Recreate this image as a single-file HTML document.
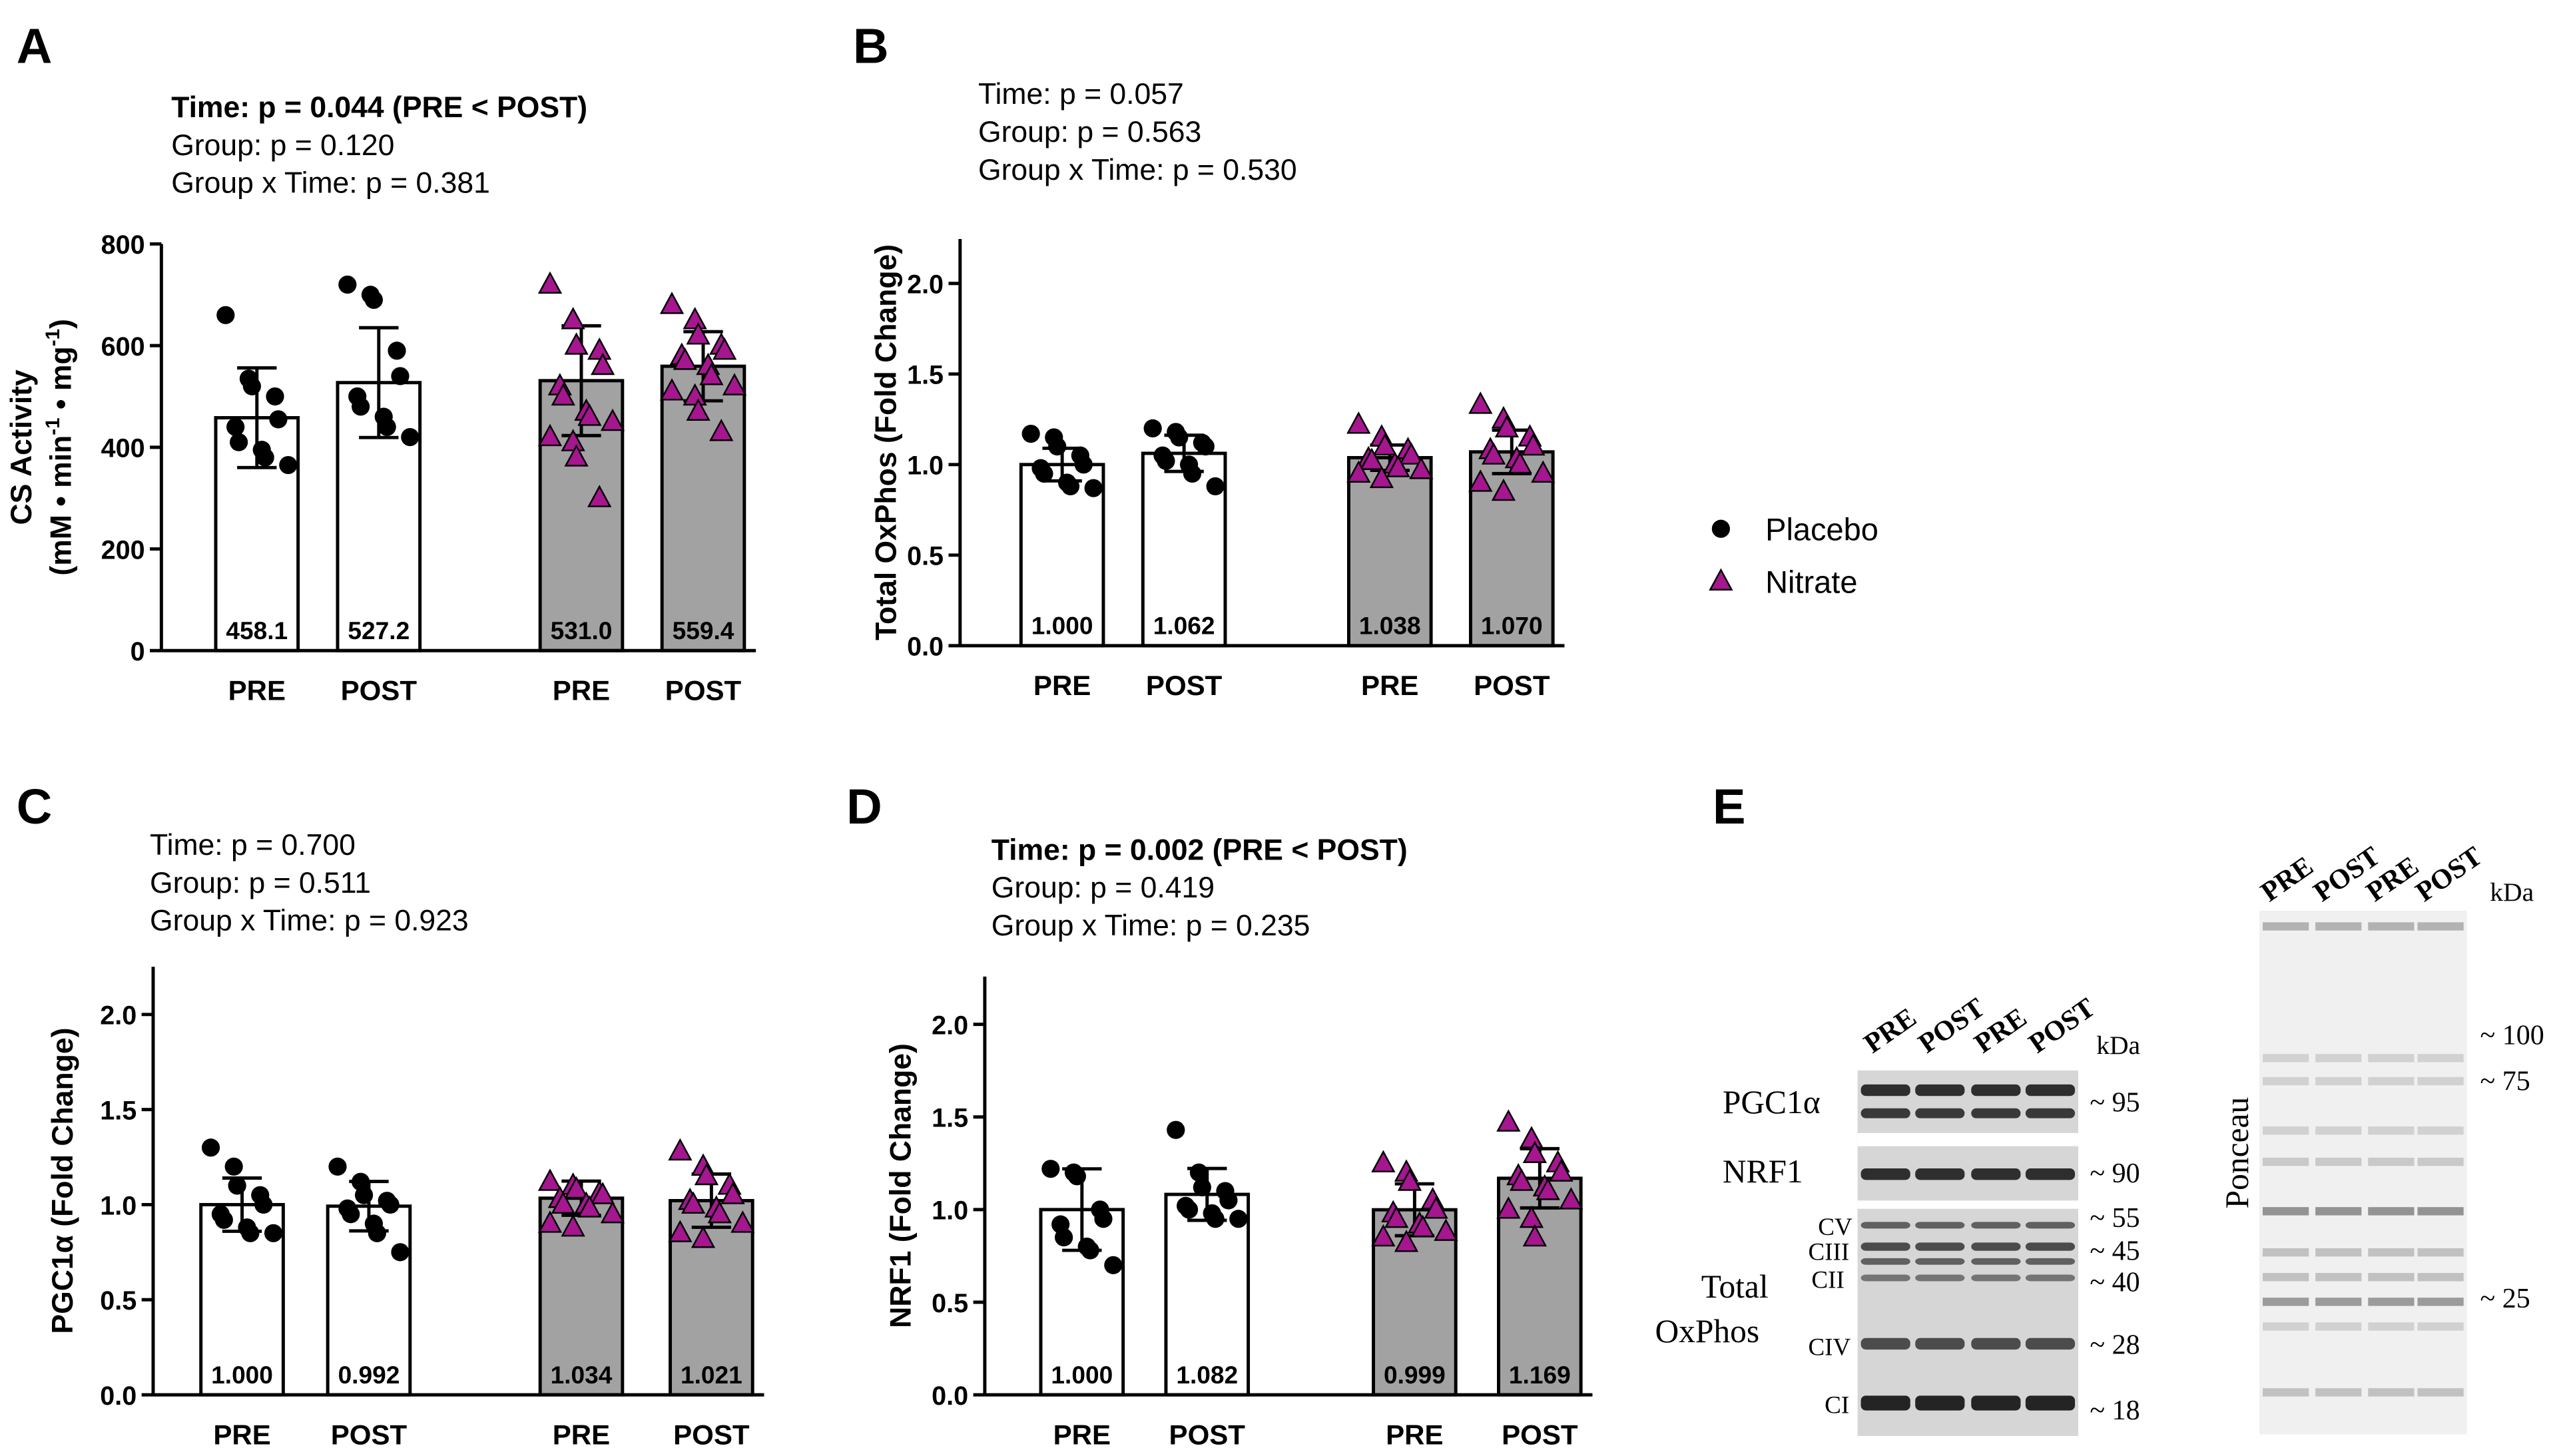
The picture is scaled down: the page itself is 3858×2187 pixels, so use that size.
<!DOCTYPE html>
<html><head><meta charset="utf-8">
<style>
html,body{margin:0;padding:0;background:#fff;}
svg{display:block;font-family:"Liberation Sans",Arial,sans-serif;}
</style></head>
<body>
<svg id="fig" width="3858" height="2187" viewBox="0 0 1560 884" xmlns="http://www.w3.org/2000/svg">
</svg>
<script>
// ---- data ----
const groups = ["Placebo PRE","Placebo POST","Nitrate PRE","Nitrate POST"];
const xLabels = ["PRE","POST","PRE","POST"];
const meansA = [458.1,527.2,531.0,559.4];
const sdA = [98,108,108,68];
const ptsA = [[660,535,520,500,455,440,410,395,380,365],[720,700,690,590,540,500,480,460,440,420],[720,650,600,590,560,520,500,470,460,450,420,410,380,300],[680,650,620,600,590,580,570,560,540,520,510,500,470,430]];
const meansB = [1.000,1.062,1.038,1.070];
const sdB = [0.09,0.10,0.07,0.12];
const ptsB = [[1.17,1.15,1.1,1.05,1.0,0.98,0.95,0.9,0.88,0.87],[1.2,1.18,1.15,1.12,1.1,1.05,1.02,1.0,0.95,0.88],[1.22,1.15,1.1,1.08,1.05,1.03,1.02,1.0,0.98,0.97,0.95,0.92],[1.33,1.25,1.2,1.15,1.1,1.08,1.05,1.03,1.0,0.95,0.9,0.85]];
const meansC = [1.000,0.992,1.034,1.021];
const sdC = [0.14,0.13,0.09,0.14];
const ptsC = [[1.3,1.2,1.1,1.05,1.0,0.95,0.92,0.88,0.85,0.85],[1.2,1.12,1.05,1.02,1.0,0.98,0.95,0.9,0.85,0.75],[1.12,1.1,1.08,1.06,1.05,1.03,1.0,1.0,0.98,0.95,0.9,0.88],[1.28,1.2,1.15,1.1,1.05,1.02,1.0,0.98,0.95,0.9,0.85,0.82]];
const meansD = [1.000,1.082,0.999,1.169];
const sdD = [0.22,0.14,0.14,0.16];
const ptsD = [[1.22,1.2,1.18,1.0,0.95,0.92,0.85,0.8,0.78,0.7],[1.43,1.2,1.12,1.1,1.05,1.02,1.0,0.98,0.95,0.95],[1.25,1.2,1.15,1.05,1.0,0.98,0.95,0.92,0.9,0.88,0.85,0.82],[1.47,1.38,1.3,1.25,1.2,1.18,1.15,1.12,1.1,1.05,1.0,0.95,0.85]];
const ticksA = [0,200,400,600,800];
const ticksFold = [0.0,0.5,1.0,1.5,2.0];

const NS="http://www.w3.org/2000/svg";
const svg=document.getElementById('fig');
function el(tag,attrs,parent){const e=document.createElementNS(NS,tag);for(const k in attrs)e.setAttribute(k,attrs[k]);(parent||svg).appendChild(e);return e;}
function txt(s,x,y,attrs,parent){const t=el('text',Object.assign({x:x,y:y,fill:'#000'},attrs),parent);t.textContent=s;return t;}

function panel(cfg){
  const g=el('g',{});
  
  
  const y=v=>cfg.y0-(v-cfg.vmin)/(cfg.vmax-cfg.vmin)*(cfg.y0-cfg.yTop);
  const L=txt(cfg.letter,cfg.letterX,cfg.letterY,{'font-size':30,'font-weight':'bold'},g);
  
  cfg.stats.forEach((s,i)=>{const t=txt(s,cfg.statX,cfg.statY+i*23,{'font-size':18,'font-weight':(i==0&&cfg.boldFirst)?'bold':'normal'},g);
    });
  const bw=50;
  cfg.means.forEach((m,i)=>{
    const cx=cfg.xs[i];
    const b=el('rect',{x:cx-bw/2,y:y(m),width:bw,height:cfg.y0-y(m),fill:i<2?'#fff':'#a2a2a2',stroke:'#000','stroke-width':2},g);
    
    const sd=cfg.sds[i];
    el('line',{x1:cx,x2:cx,y1:y(m-sd),y2:y(m+sd),stroke:'#000','stroke-width':2},g);
    el('line',{x1:cx-12,x2:cx+12,y1:y(m+sd),y2:y(m+sd),stroke:'#000','stroke-width':2},g);
    el('line',{x1:cx-12,x2:cx+12,y1:y(m-sd),y2:y(m-sd),stroke:'#000','stroke-width':2},g);
    cfg.pts[i].forEach((v,j)=>{
      const off=((j%5)-2)*8+((j%2)?3:-3);
      const px=cx+off, py=y(v);
      let p;
      if(i<2){p=el('circle',{cx:px,cy:py,r:5.5,fill:'#000'},g);}
      else{p=el('polygon',{points:`${px},${py-7} ${px-6.5},${py+5} ${px+6.5},${py+5}`,fill:'#a5168f',stroke:'#000','stroke-width':1},g);}
      
    });
    const vt=txt(m.toFixed(cfg.dec),cx,cfg.y0-7,{'font-size':15,'font-weight':'bold','text-anchor':'middle'},g);
    
    const xl=txt(xLabels[i],cx,cfg.y0+30,{'font-size':17,'font-weight':'bold','text-anchor':'middle'},g);
    
  });
  const ax=el('line',{x1:cfg.ax,x2:cfg.ax,y1:cfg.axTop,y2:cfg.y0,stroke:'#000','stroke-width':2},g);
  
  const xa=el('line',{x1:cfg.ax,x2:cfg.xs[3]+32,y1:cfg.y0,y2:cfg.y0,stroke:'#000','stroke-width':2},g);
  
  cfg.ticks.forEach(t=>{
    el('line',{x1:cfg.ax-7,x2:cfg.ax,y1:y(t),y2:y(t),stroke:'#000','stroke-width':2},g);
    const tl=txt(t.toFixed(cfg.tdec),cfg.ax-10,y(t)+6,{'font-size':16,'font-weight':'bold','text-anchor':'end'},g);
    
  });
  const yt=el('text',{transform:`translate(${cfg.titleX},${(cfg.y0+cfg.axTop)/2}) rotate(-90)`,'font-size':18,'font-weight':'bold','text-anchor':'middle',fill:'#000'},g);
  
  if(cfg.titleHtml){yt.innerHTML=cfg.titleHtml;}else yt.textContent=cfg.title;
}

panel({name:'panel-a',letter:'A',letterX:10,letterY:38,stats:['Time: p = 0.044 (PRE <  POST)','Group: p = 0.120','Group x Time: p = 0.381'],boldFirst:true,statX:104,statY:71,
  means:meansA,sds:sdA,pts:ptsA,xs:[156,230,353,427],y0:395,yTop:148,vmin:0,vmax:800,axTop:148,ax:98,ticks:ticksA,tdec:0,dec:1,titleX:31,
  titleHtml:'<tspan x="0" dy="-12">CS Activity</tspan><tspan x="0" dy="24">(mM • min<tspan font-size="12" dy="-7">-1</tspan><tspan dy="7"> • mg</tspan><tspan font-size="12" dy="-7">-1</tspan><tspan dy="7">)</tspan></tspan>'});
panel({name:'panel-b',letter:'B',letterX:518,letterY:38,stats:['Time: p = 0.057','Group: p = 0.563','Group x Time: p = 0.530'],boldFirst:false,statX:594,statY:63,
  means:meansB,sds:sdB,pts:ptsB,xs:[645,719,844,918],y0:392,yTop:172,vmin:0,vmax:2,axTop:145,ax:583,ticks:ticksFold,tdec:1,dec:3,titleX:544,title:'Total OxPhos (Fold Change)'});
panel({name:'panel-c',letter:'C',letterX:10,letterY:500,stats:['Time: p = 0.700','Group: p = 0.511','Group x Time: p = 0.923'],boldFirst:false,statX:91,statY:519,
  means:meansC,sds:sdC,pts:ptsC,xs:[147,224,353,432],y0:847,yTop:616,vmin:0,vmax:2,axTop:587,ax:93,ticks:ticksFold,tdec:1,dec:3,titleX:44,title:'PGC1α (Fold Change)'});
panel({name:'panel-d',letter:'D',letterX:514,letterY:500,stats:['Time: p = 0.002 (PRE < POST)','Group: p = 0.419','Group x Time: p = 0.235'],boldFirst:true,statX:602,statY:522,
  means:meansD,sds:sdD,pts:ptsD,xs:[657,733,859,935],y0:847,yTop:622,vmin:0,vmax:2,axTop:593,ax:598,ticks:ticksFold,tdec:1,dec:3,titleX:553,title:'NRF1 (Fold Change)'});

const lg=el('g',{});
el('circle',{cx:1045,cy:321,r:5.5,fill:'#000'},lg);
txt('Placebo',1072,328,{'font-size':19},lg);
el('polygon',{points:'1045,346 1038.5,358 1051.5,358',fill:'#a5168f',stroke:'#000','stroke-width':1},lg);
txt('Nitrate',1072,360,{'font-size':19},lg);

const E=el('g',{'font-family':'"Liberation Serif",serif'});
txt('E',1040,500,{'font-size':30,'font-weight':'bold','font-family':'"Liberation Sans",sans-serif'},E);
const laneX=[1145,1178,1212,1245];
['PRE','POST','PRE','POST'].forEach((s,i)=>{const t=el('text',{transform:`translate(${laneX[i]-8},${640}) rotate(-35)`,'font-size':17,'font-weight':'bold',fill:'#000'},E);t.textContent=s;});
txt('kDa',1273,640,{'font-size':16},E);
el('rect',{x:1128,y:650,width:134,height:222,fill:'#d6d6d6'},E);
el('rect',{x:1128,y:688,width:134,height:8,fill:'#fff'},E);
el('rect',{x:1128,y:729,width:134,height:5,fill:'#fff'},E);
const bands=[[662,7,0.85],[676,6,0.8],[713,7,0.85],[744,4,0.6],[757,5,0.7],[766,4,0.6],[776,4,0.5],[816,7,0.7],[852,9,0.9]];
bands.forEach(b=>laneX.forEach(x=>{el('rect',{x:x-15,y:b[0]-b[1]/2,width:30,height:b[1],rx:3,fill:'#111','fill-opacity':b[2]},E);}));
txt('PGC1α',1046,676,{'font-size':20},E);txt('NRF1',1046,718,{'font-size':20},E);
txt('CV',1104,750,{'font-size':15},E);txt('CIII',1098,765,{'font-size':15},E);txt('CII',1100,782,{'font-size':15},E);
txt('CIV',1098,823,{'font-size':15},E);txt('CI',1108,858,{'font-size':15},E);
txt('Total',1033,788,{'font-size':20},E);txt('OxPhos',1005,815,{'font-size':20},E);
[['~ 95',675],['~ 90',718],['~ 55',745],['~ 45',765],['~ 40',784],['~ 28',822],['~ 18',862]].forEach(k=>txt(k[0],1269,k[1],{'font-size':17},E));
const pX=[1388,1420,1452,1482];
['PRE','POST','PRE','POST'].forEach((s,i)=>{const t=el('text',{transform:`translate(${pX[i]-10},${548}) rotate(-35)`,'font-size':17,'font-weight':'bold',fill:'#000'},E);t.textContent=s;});
txt('kDa',1512,547,{'font-size':16},E);
el('rect',{x:1372,y:553,width:126,height:318,fill:'#f0f0f0'},E);
[[562,0.4],[642,0.2],[656,0.2],[686,0.2],[705,0.25],[735,0.6],[760,0.3],[775,0.3],[790,0.55],[805,0.2],[845,0.3]].forEach(b=>pX.forEach(x=>{el('rect',{x:x-14,y:b[0]-2,width:28,height:5,fill:'#555','fill-opacity':b[1]},E);}));
txt('~ 100',1506,634,{'font-size':17},E);txt('~ 75',1506,662,{'font-size':17},E);txt('~ 25',1506,794,{'font-size':17},E);
const pc=el('text',{transform:'translate(1365,700) rotate(-90)','font-size':20,'text-anchor':'middle',fill:'#000'},E);pc.textContent='Ponceau';
</script>
</body></html>
